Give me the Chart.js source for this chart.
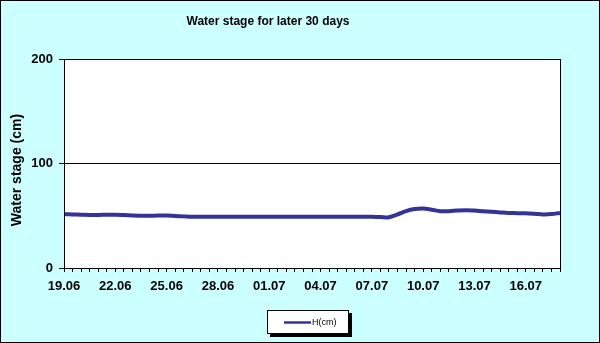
<!DOCTYPE html>
<html>
<head>
<meta charset="utf-8">
<script src="https://cdn.jsdelivr.net/npm/chart.js@4/dist/chart.umd.min.js"></script>
<style>
html,body{margin:0;padding:0;background:#CCFFFF;}
#wrap{width:600px;height:343px;position:relative;}
</style>
</head>
<body>
<div id="wrap"><canvas id="c" width="600" height="343"></canvas></div>
<script>
// Categories: observations every 12 hours, 19.06 00h .. 18.07 00h
const categories = [
  "19.06 00h","19.06 12h","20.06 00h","20.06 12h","21.06 00h","21.06 12h",
  "22.06 00h","22.06 12h","23.06 00h","23.06 12h","24.06 00h","24.06 12h",
  "25.06 00h","25.06 12h","26.06 00h","26.06 12h","27.06 00h","27.06 12h",
  "28.06 00h","28.06 12h","29.06 00h","29.06 12h","30.06 00h","30.06 12h",
  "01.07 00h","01.07 12h","02.07 00h","02.07 12h","03.07 00h","03.07 12h",
  "04.07 00h","04.07 12h","05.07 00h","05.07 12h","06.07 00h","06.07 12h",
  "07.07 00h","07.07 12h","08.07 00h","08.07 12h","09.07 00h","09.07 12h",
  "10.07 00h","10.07 12h","11.07 00h","11.07 12h","12.07 00h","12.07 12h",
  "13.07 00h","13.07 12h","14.07 00h","14.07 12h","15.07 00h","15.07 12h",
  "16.07 00h","16.07 12h","17.07 00h","17.07 12h","18.07 00h"
];
// Tick labels shown every 6th category (every 3 days)
const tickLabels = ["19.06","22.06","25.06","28.06","01.07","04.07","07.07","10.07","13.07","16.07"];
const yTicks = [0, 100, 200];
const seriesLabel = "H(cm)";
const hValues = [
  51.5, 51.2, 51.0, 50.8, 50.8, 51.0,
  51.0, 50.7, 50.3, 50.0, 50.0, 50.2,
  50.2, 49.8, 49.4, 49.0, 49.0, 49.0,
  49.0, 49.0, 49.0, 49.0, 49.0, 49.0,
  49.0, 49.0, 49.0, 49.0, 49.0, 49.0,
  49.0, 49.0, 49.0, 49.0, 49.0, 49.0,
  49.0, 48.7, 48.6, 51.3, 54.5, 56.4,
  56.9, 55.8, 54.4, 54.4, 55.0, 55.3,
  55.0, 54.4, 53.8, 53.2, 52.7, 52.5,
  52.3, 52.0, 51.3, 51.6, 52.7
];

const FONT = "'Liberation Sans', Arial, sans-serif";

const decor = {
  id: 'decor',
  beforeDraw(chart) {
    const ctx = chart.ctx, a = chart.chartArea;
    ctx.save();
    ctx.fillStyle = '#CCFFFF';
    ctx.fillRect(0, 0, chart.width, chart.height);
    ctx.fillStyle = '#FFFFFF';
    ctx.fillRect(a.left, a.top, a.right - a.left, a.bottom - a.top);
    ctx.restore();
  },
  afterDraw(chart) {
    const ctx = chart.ctx, a = chart.chartArea;
    ctx.save();
    // plot border
    ctx.strokeStyle = '#000';
    ctx.lineWidth = 1;
    ctx.strokeRect(Math.round(a.left) + 0.5, Math.round(a.top) + 0.5,
                   Math.round(a.right - a.left), Math.round(a.bottom - a.top));
    // outer border
    ctx.strokeRect(0.5, 0.5, chart.width - 1, chart.height - 1);
    // title
    ctx.fillStyle = '#000';
    ctx.font = 'bold 12px ' + FONT;
    ctx.textAlign = 'center';
    ctx.textBaseline = 'middle';
    ctx.fillText('Water stage for later 30 days', 268, 22);
    // y axis title
    ctx.font = 'bold 14px ' + FONT;
    ctx.translate(17, 170);
    ctx.rotate(-Math.PI / 2);
    ctx.fillText('Water stage (cm)', 0, 0);
    ctx.restore();
    // legend
    ctx.save();
    const lx = 267, ly = 310, lw = 82, lh = 24;
    ctx.fillStyle = '#000';
    ctx.fillRect(lx + 3, ly + 3, lw, lh);
    ctx.fillStyle = '#FFF';
    ctx.fillRect(lx, ly, lw, lh);
    ctx.strokeStyle = '#000';
    ctx.lineWidth = 1;
    ctx.strokeRect(lx + 0.5, ly + 0.5, lw - 1, lh - 1);
    const ds = chart.data.datasets[0];
    ctx.strokeStyle = ds.borderColor;
    ctx.lineWidth = 2.5;
    ctx.beginPath();
    ctx.moveTo(284, 322.5);
    ctx.lineTo(311, 322.5);
    ctx.stroke();
    ctx.fillStyle = '#000';
    ctx.font = '9px ' + FONT;
    ctx.textAlign = 'left';
    ctx.textBaseline = 'middle';
    ctx.fillText(ds.label, 312, 323);
    ctx.restore();
  }
};

new Chart(document.getElementById('c'), {
  type: 'line',
  data: {
    labels: categories,
    datasets: [{
      label: seriesLabel,
      data: hValues,
      borderColor: '#333399',
      borderWidth: 4,
      pointRadius: 0,
      tension: 0.4,
      fill: false
    }]
  },
  options: {
    responsive: false,
    animation: false,
    devicePixelRatio: 1,
    layout: { padding: { left: 0, right: 40, top: 59, bottom: 0 } },
    plugins: { legend: { display: false }, title: { display: false }, tooltip: { enabled: false } },
    scales: {
      x: {
        type: 'category',
        offset: false,
        afterFit(s) { s.height = 75; },
        grid: { display: true, drawOnChartArea: false, drawTicks: true, tickLength: 4, color: '#000', lineWidth: 1 },
        border: { display: true, color: '#000', width: 1 },
        ticks: {
          autoSkip: false, maxRotation: 0, minRotation: 0, padding: 7,
          color: '#000', font: { family: FONT, size: 13, weight: 'bold' },
          callback(v, i) { return i % 6 === 0 ? tickLabels[i / 6] : ''; }
        }
      },
      y: {
        min: 0, max: 200,
        afterFit(s) { s.width = 64; },
        afterBuildTicks(s) { s.ticks = yTicks.map(v => ({ value: v })); },
        grid: { display: true, drawOnChartArea: true, drawTicks: true, tickLength: 5, color: '#000', lineWidth: 1 },
        border: { display: true, color: '#000', width: 1 },
        ticks: {
          padding: 6, color: '#000', font: { family: FONT, size: 13, weight: 'bold' }
        }
      }
    }
  },
  plugins: [decor]
});
</script>
</body>
</html>
